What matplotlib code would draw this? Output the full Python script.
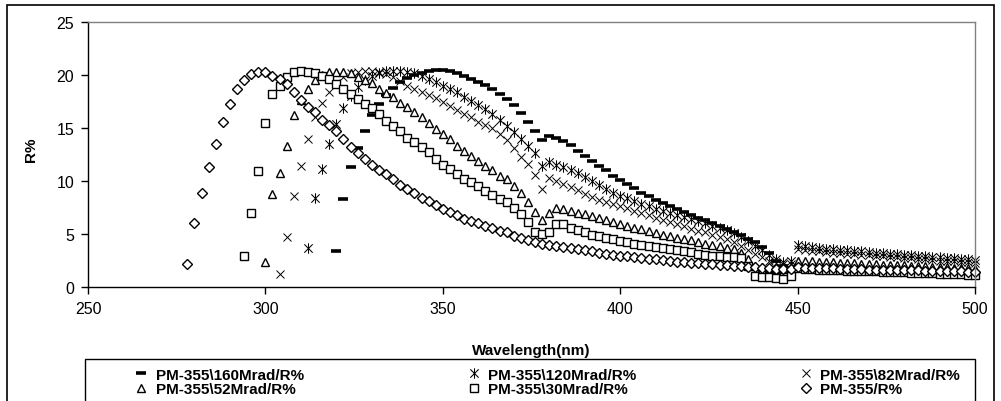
import numpy as np
import matplotlib
matplotlib.use("Agg")
import matplotlib.pyplot as plt
from matplotlib.path import Path
from matplotlib.patches import Rectangle

plt.rcParams['font.family'] = ['Liberation Sans', 'DejaVu Sans']

# reflectance spectra (R%), one reading every 2 nm from each start wavelength up to 500 nm
step = 2

start_160 = 320
r_160 = [3.4, 8.3, 11.3, 13.1, 14.75, 16.2, 17.3, 18.1, 18.8, 19.3,
         19.7, 20.0, 20.2, 20.35, 20.45, 20.45, 20.35, 20.15, 19.9, 19.65,
         19.35, 19.05, 18.65, 18.2, 17.7, 17.15, 16.45, 15.55, 14.7, 13.85,
         14.2, 14.1, 13.8, 13.35, 12.85, 12.35, 11.9, 11.45, 11.0, 10.5,
         10.1, 9.7, 9.3, 8.9, 8.55, 8.2, 7.9, 7.6, 7.35, 7.1,
         6.8, 6.5, 6.3, 6.05, 5.8, 5.5, 5.2, 4.9, 4.55, 4.2,
         3.8, 3.2, 2.5, 2.0, 1.8, 1.9, 1.85, 1.8, 1.75, 1.7,
         1.65, 1.6, 1.6, 1.55, 1.5, 1.5, 1.45, 1.4, 1.4, 1.35,
         1.3, 1.25, 1.2, 1.15, 1.1, 1.05, 1.0, 0.95, 0.9, 0.9,
         0.85]

start_120 = 312
r_120 = [3.7, 8.4, 11.1, 13.5,
         15.4, 16.9, 18.0, 18.9, 19.5, 19.9, 20.2, 20.4, 20.4, 20.4,
         20.3, 20.15, 19.9, 19.6, 19.35, 19.0, 18.7, 18.35, 17.95, 17.55,
         17.15, 16.75, 16.3, 15.75, 15.2, 14.6, 14.0, 13.3, 12.6, 11.4,
         11.8, 11.55, 11.3, 11.05, 10.75, 10.4, 10.0, 9.6, 9.2, 8.85,
         8.6, 8.35, 8.1, 7.85, 7.6, 7.4, 7.2, 7.0, 6.8, 6.6,
         6.4, 6.2, 6.0, 5.8, 5.6, 5.35, 5.05, 4.7, 4.3, 3.9,
         3.5, 3.0, 2.6, 2.4, 2.5, 3.95, 3.85, 3.75, 3.7, 3.6,
         3.55, 3.5, 3.45, 3.4, 3.35, 3.3, 3.25, 3.2, 3.15, 3.1,
         3.05, 3.0, 2.95, 2.9, 2.85, 2.8, 2.75, 2.7, 2.65, 2.6,
         2.55]

start_82 = 304
r_82 = [1.2, 4.7, 8.6, 11.4, 14.0, 16.0, 17.4, 18.4,
        19.2, 19.8, 20.2, 20.3, 20.4, 20.4, 20.3, 20.1, 19.8, 19.4,
        19.0, 18.7, 18.4, 18.1, 17.8, 17.5, 17.1, 16.7, 16.3, 16.0,
        15.6, 15.3, 15.0, 14.4, 13.9, 13.1, 12.3, 11.6, 10.6, 9.2,
        10.3, 10.0, 9.75, 9.45, 9.15, 8.8, 8.5, 8.25, 8.05, 7.85,
        7.65, 7.45, 7.15, 6.95, 6.75, 6.5, 6.3, 6.1, 5.9, 5.75,
        5.5, 5.3, 5.15, 4.95, 4.75, 4.5, 4.2, 3.9, 3.5, 3.15,
        2.85, 2.5, 2.3, 2.15, 2.2, 3.6, 3.45, 3.4, 3.35, 3.3,
        3.25, 3.2, 3.15, 3.1, 3.05, 3.0, 2.95, 2.9, 2.85, 2.8,
        2.75, 2.7, 2.65, 2.6, 2.55, 2.5, 2.45, 2.45, 2.4, 2.35,
        2.3]

start_52 = 300
r_52 = [2.4, 8.8, 10.8, 13.3, 16.2, 17.6, 18.7, 19.5, 20.0, 20.25,
        20.3, 20.3, 20.2, 19.8, 19.5, 19.2, 18.7, 18.3, 17.9, 17.4,
        16.95, 16.5, 16.0, 15.5, 14.9, 14.4, 14.0, 13.3, 12.8, 12.4,
        11.9, 11.4, 11.0, 10.5, 10.2, 9.55, 8.9, 8.0, 7.1, 6.3,
        7.0, 7.5, 7.35, 7.2, 7.0, 6.85, 6.7, 6.5, 6.3, 6.1,
        5.95, 5.8, 5.6, 5.45, 5.3, 5.1, 4.95, 4.8, 4.65, 4.5,
        4.4, 4.25, 4.1, 4.0, 3.85, 3.7, 3.55, 3.2, 2.6, 2.0,
        1.85, 1.75, 1.7, 1.7, 1.75, 2.5, 2.45, 2.45, 2.4, 2.4,
        2.35, 2.3, 2.3, 2.25, 2.2, 2.2, 2.15, 2.1, 2.1, 2.05,
        2.05, 2.0, 2.0, 1.95, 1.9, 1.9, 1.85, 1.8, 1.8, 1.75,
        1.7]

start_30 = 294
r_30 = [2.9, 7.0, 10.9,
        15.5, 18.2, 19.0, 19.8, 20.25, 20.4, 20.3, 20.2, 19.9, 19.6,
        19.15, 18.7, 18.2, 17.7, 17.3, 16.85, 16.3, 15.7, 15.2, 14.75,
        14.1, 13.65, 13.2, 12.7, 12.1, 11.5, 11.1, 10.65, 10.2, 9.9,
        9.55, 9.1, 8.7, 8.3, 8.0, 7.5, 6.9, 6.1, 5.2, 5.0,
        5.2, 5.9, 5.9, 5.6, 5.35, 5.15, 4.95, 4.8, 4.65, 4.5,
        4.35, 4.2, 4.1, 4.0, 3.9, 3.8, 3.7, 3.6, 3.5, 3.4,
        3.3, 3.15, 3.05, 2.95, 2.9, 2.85, 2.8, 2.7, 2.0, 1.05,
        0.95, 0.9, 0.85, 0.8, 1.0, 1.75, 1.7, 1.7, 1.65, 1.65,
        1.6, 1.6, 1.55, 1.55, 1.5, 1.5, 1.5, 1.45, 1.45, 1.4,
        1.4, 1.35, 1.35, 1.3, 1.3, 1.25, 1.25, 1.2, 1.2, 1.15,
        1.15]

start_0 = 278
r_0 = [2.2, 6.0, 8.9, 11.3, 13.5, 15.6, 17.3, 18.7, 19.5, 20.1, 20.3,
       20.3, 19.9, 19.6, 19.15, 18.4, 17.6, 17.0, 16.5, 15.8, 15.3,
       14.75, 14.0, 13.2, 12.6, 12.1, 11.5, 11.05, 10.65, 10.2, 9.6,
       9.25, 8.9, 8.4, 8.1, 7.75, 7.4, 7.05, 6.75, 6.45, 6.2,
       6.0, 5.8, 5.55, 5.3, 5.15, 4.85, 4.6, 4.4, 4.25, 4.05,
       3.95, 3.85, 3.75, 3.65, 3.55, 3.45, 3.35, 3.25, 3.15, 3.05,
       2.95, 2.9, 2.8, 2.75, 2.65, 2.6, 2.55, 2.5, 2.4, 2.35,
       2.3, 2.25, 2.2, 2.15, 2.1, 2.05, 2.0, 1.95, 1.9, 1.85,
       1.8, 1.75, 1.7, 1.7, 1.7, 1.85, 1.8, 1.8, 1.75, 1.75,
       1.75, 1.7, 1.7, 1.7, 1.7, 1.65, 1.65, 1.65, 1.65, 1.6,
       1.6, 1.6, 1.6, 1.55, 1.55, 1.55, 1.5, 1.5, 1.5, 1.45,
       1.45]

labels = ["PM-355\\160Mrad/R%", "PM-355\\120Mrad/R%", "PM-355\\82Mrad/R%",
          "PM-355\\52Mrad/R%", "PM-355\\30Mrad/R%", "PM-355/R%"]

# asterisk = x plus a vertical bar
star = Path([(-1, -1), (1, 1), (-1, 1), (1, -1), (0, -1.25), (0, 1.25)],
            [Path.MOVETO, Path.LINETO] * 3)

styles = [
    dict(marker='_', ms=7, mew=2.6),
    dict(marker=star, ms=7.5, mew=0.75),
    dict(marker='x', ms=5.5, mew=0.7),
    dict(marker='^', ms=6.2, mew=1.0, mfc='white'),
    dict(marker='s', ms=5.2, mew=1.0, mfc='white'),
    dict(marker='D', ms=4.6, mew=1.0, mfc='white'),
]
starts = [start_160, start_120, start_82, start_52, start_30, start_0]
values = [r_160, r_120, r_82, r_52, r_30, r_0]

W, H = 1001, 402
fig = plt.figure(figsize=(W / 100, H / 100), dpi=100)
ax = fig.add_axes([88 / W, 1 - 288 / H, (975 - 88) / W, (288 - 23) / H])

handles = []
for lab, s0, vals, st in zip(labels, starts, values, styles):
    wl = np.arange(s0, s0 + step * len(vals), step)
    h, = ax.plot(wl, vals, linestyle='none', color='black', mec='black',
                 clip_on=False, label=lab, **st)
    handles.append(h)

ax.set_xlim(250, 500)
ax.set_ylim(0, 25)
ax.set_xticks(np.arange(250, 501, 50))
ax.set_yticks(np.arange(0, 26, 5))
ax.tick_params(direction='out', length=5, width=1, labelsize=11.5, color='black')
ax.tick_params(axis='y', pad=5)
ax.tick_params(axis='x', pad=5)
for side in ['left', 'bottom']:
    ax.spines[side].set_color('black')
    ax.spines[side].set_linewidth(1)
for side in ['top', 'right']:
    ax.spines[side].set_color('#808080')
    ax.spines[side].set_linewidth(1)

fig.text(31 / W, 1 - 150 / H, 'R%', rotation=90, ha='center', va='center',
         fontsize=11, fontweight='bold')
fig.text(531 / W, 1 - 351 / H, 'Wavelength(nm)', ha='center', va='center',
         fontsize=11, fontweight='bold')

# chart border and legend box (both run off the bottom edge)
fig.add_artist(Rectangle((7 / W, -0.1), (994 - 7) / W, 1 - 6 / H + 0.1,
                         transform=fig.transFigure, fill=False,
                         edgecolor='black', lw=1.2))
fig.add_artist(Rectangle((85 / W, -0.1), (975 - 85) / W, 1 - 360 / H + 0.1,
                         transform=fig.transFigure, fill=False,
                         edgecolor='black', lw=1.0))

# legend reads row by row: reorder for column-major filling
order = [0, 3, 1, 4, 2, 5]
fig.legend([handles[i] for i in order], [labels[i] for i in order],
           ncol=3, loc='upper left', bbox_to_anchor=(126 / W, 1 - 361 / H),
           frameon=False, borderpad=0, handlelength=1.0, handletextpad=0.45,
           columnspacing=10.6, labelspacing=0.05,
           prop={'weight': 'bold', 'size': 11})

fig.savefig('out.png', dpi=100, facecolor='white')
